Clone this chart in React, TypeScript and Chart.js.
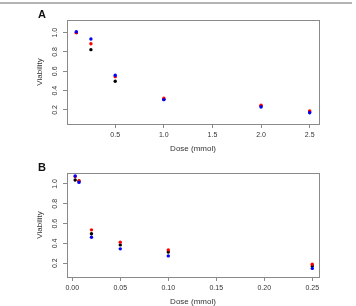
import React, { useEffect, useRef } from "react";
import { Chart, registerables } from "chart.js";

Chart.register(...registerables);

// Panel A
const doseA = [0.1, 0.25, 0.5, 1.0, 2.0, 2.5];
const blackA = [1.0, 0.824, 0.497, 0.31, 0.24, 0.18];
const redA = [1.0, 0.886, 0.545, 0.321, 0.249, 0.19];
const blueA = [1.01, 0.935, 0.559, 0.307, 0.231, 0.172];
const xTicksA = [0.5, 1.0, 1.5, 2.0, 2.5];

// Panel B
const doseB = [0.003, 0.007, 0.02, 0.05, 0.1, 0.25];
const blackB = [1.04, 1.03, 0.497, 0.385, 0.314, 0.172];
const redB = [1.075, 1.03, 0.537, 0.413, 0.335, 0.19];
const blueB = [1.081, 1.016, 0.463, 0.345, 0.274, 0.148];
const xTicksB = [0.0, 0.05, 0.1, 0.15, 0.2, 0.25];

const yTicks = [0.2, 0.4, 0.6, 0.8, 1.0];
const xTitle = "Dose (mmol)";
const yTitle = "Viability";

const FONT = "'Liberation Sans', Arial, Helvetica, sans-serif";

const pts = (xs: number[], ys: number[]) => xs.map((x, i) => ({ x, y: ys[i] }));

function makeConfig(
  letter: string,
  doses: number[],
  black: number[],
  red: number[],
  blue: number[],
  xTicks: number[],
  xDigits: number,
  xMin: number,
  xMax: number,
  yMin: number,
  yMax: number
): any {
  const boxPlugin = {
    id: "box" + letter,
    afterDraw(chart: any) {
      const { ctx, chartArea: a } = chart;
      ctx.save();
      ctx.strokeStyle = "#8a8a8a";
      ctx.lineWidth = 1;
      ctx.strokeRect(Math.round(a.left) + 0.5, Math.round(a.top) + 0.5, Math.round(a.right - a.left), Math.round(a.bottom - a.top));
      ctx.fillStyle = "#111";
      ctx.font = "bold 11px " + FONT;
      ctx.textAlign = "center";
      ctx.textBaseline = "middle";
      ctx.fillText(letter, 42, 15);
      ctx.restore();
    },
  };
  const ds = (label: string, ys: number[], color: string, order: number) => ({
    label,
    data: pts(doses, ys),
    backgroundColor: color,
    borderColor: color,
    borderWidth: 0,
    pointRadius: 1.7,
    pointHoverRadius: 1.7,
    order,
  });
  return {
    type: "scatter",
    data: {
      datasets: [
        ds("blue", blue, "#0000ff", 0),
        ds("red", red, "#ff0000", 1),
        ds("black", black, "#000000", 2),
      ],
    },
    options: {
      animation: false,
      responsive: false,
      events: [],
      layout: { padding: { left: 0, right: 37, top: 20, bottom: 0 } },
      plugins: { legend: { display: false }, tooltip: { enabled: false }, title: { display: false } },
      scales: {
        x: {
          type: "linear",
          min: xMin,
          max: xMax,
          afterBuildTicks: (s: any) => {
            s.ticks = xTicks.map((v) => ({ value: v }));
          },
          afterFit: (s: any) => {
            s.height = 29;
          },
          grid: { display: true, drawOnChartArea: false, drawTicks: true, tickLength: 4, color: "#8a8a8a" },
          border: { display: false },
          ticks: {
            color: "#333",
            font: { family: FONT, size: 7 },
            padding: 3,
            maxRotation: 0,
            autoSkip: false,
            callback: (v: any) => Number(v).toFixed(xDigits),
          },
          title: {
            display: true,
            text: xTitle,
            color: "#333",
            font: { family: FONT, size: 8, lineHeight: 1 },
            padding: { top: 0, bottom: 0 },
          },
        },
        y: {
          type: "linear",
          min: yMin,
          max: yMax,
          afterBuildTicks: (s: any) => {
            s.ticks = yTicks.map((v) => ({ value: v }));
          },
          afterFit: (s: any) => {
            s.width = 67;
          },
          grid: { display: true, drawOnChartArea: false, drawTicks: true, tickLength: 4, color: "#8a8a8a" },
          border: { display: false },
          ticks: {
            color: "#333",
            font: { family: FONT, size: 7 },
            padding: 3,
            minRotation: 90,
            maxRotation: 90,
            crossAlign: "center",
            autoSkip: false,
            callback: (v: any) => Number(v).toFixed(1),
          },
          title: {
            display: true,
            text: yTitle,
            color: "#333",
            font: { family: FONT, size: 8, lineHeight: 1.2 },
            padding: { top: 35, bottom: 0 },
          },
        },
      },
    },
    plugins: [boxPlugin],
  };
}

export default function App() {
  const refA = useRef<HTMLCanvasElement | null>(null);
  const refB = useRef<HTMLCanvasElement | null>(null);

  useEffect(() => {
    const a = new Chart(
      refA.current as HTMLCanvasElement,
      makeConfig("A", doseA, blackA, redA, blueA, xTicksA, 1, 0.004, 2.596, 0.055, 1.131)
    );
    const b = new Chart(
      refB.current as HTMLCanvasElement,
      makeConfig("B", doseB, blackB, redB, blueB, xTicksB, 2, -0.0055, 0.257, 0.061, 1.111)
    );
    return () => {
      a.destroy();
      b.destroy();
    };
  }, []);

  return (
    <div style={{ position: "absolute", left: 0, top: 0, width: 356, height: 306, background: "#fff" }}>
      <div style={{ position: "absolute", left: 0, top: 2, width: 352, height: 2, background: "#b4b4b4" }} />
      <canvas ref={refA} width={356} height={153} style={{ position: "absolute", left: 0, top: 0, display: "block" }} />
      <canvas ref={refB} width={356} height={153} style={{ position: "absolute", left: 0, top: 153, display: "block" }} />
    </div>
  );
}
